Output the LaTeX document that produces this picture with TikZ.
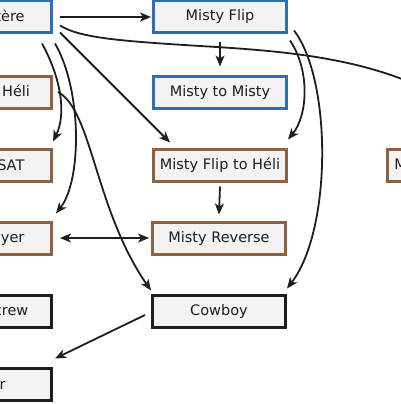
\documentclass[tikz,border=0pt]{standalone}
\usepackage{fontspec}
\setmainfont{DejaVu Sans}
\usetikzlibrary{arrows.meta,calc}
\definecolor{bl}{HTML}{2B6FBA}
\definecolor{br}{HTML}{8E6240}
\definecolor{bk}{HTML}{1E1E1E}
\definecolor{fl}{HTML}{F3F3F3}
\tikzset{
  box/.style={draw, fill=fl, line width=3pt, minimum width=133pt, minimum height=32pt,
    inner sep=0pt, text=bk, font=\fontsize{14.5}{17}\selectfont},
  bluebox/.style={box, draw=bl},
  brownbox/.style={box, draw=br},
  blackbox/.style={box, draw=bk},
  arr/.style={-{Stealth[length=11pt,width=9pt,inset=3pt]}, line width=1.8pt, draw=bk},
  darr/.style={{Stealth[length=11pt,width=9pt,inset=3pt]}-{Stealth[length=11pt,width=9pt,inset=3pt]}, line width=1.8pt, draw=bk}
}
\begin{document}
\begin{tikzpicture}[x=1pt,y=-1pt]
\useasboundingbox (0,0) rectangle (400,404);
% nodes
\node[bluebox]  (ere)    at (-15,17)  {Le Mystère};
\node[bluebox]  (flip)   at (220,17)  {Misty Flip};
\node[bluebox]  (mtm)    at (220,92)  {Misty to Misty};
\node[brownbox] (heli)   at (-15,92)  {Misty to Héli};
\node[brownbox] (sat)    at (-15,165) {Héli to SAT};
\node[brownbox] (mfh)    at (220,165) {Misty Flip to Héli};
\node[brownbox] (msat)   at (454,165) {Misty Flip to SAT};
\node[brownbox] (er)     at (-15,238) {Misty Flyer};
\node[brownbox] (mr)     at (219,238) {Misty Reverse};
\node[blackbox] (crew)   at (-15,311) {Misty Screw};
\node[blackbox] (cowboy) at (219,311) {Cowboy};
\node[blackbox] (rr)     at (-15,384) {Slider};
% edges
\draw[arr] ($(ere.east)+(7,0)$) -- ($(flip.west)+(-1,0)$);
\draw[arr] ($(flip.south)+(0,8)$) -- ($(mtm.south)+(0,-43)$);
\draw[arr] ($(ere.south east)+(7,-9)$) .. controls (80,38) and (120,41) .. (200,46)
   .. controls (300,52) and (420,60) .. ($(msat.north east)+(-22,-3)$);
\draw[arr] ($(ere.south east)+(7,-2)$) -- ($(mfh.north west)+(18,-5)$);
\draw[arr] ($(ere.south east)+(-11,9)$) .. controls (62,80) and (66,115) .. ($(sat.north east)+(0,-6)$);
\draw[arr] ($(ere.south east)+(2,9)$) .. controls (82,90) and (82,180) .. ($(er.north east)+(3,-7)$);
\draw[arr] ($(heli.east)+(5,0)$) .. controls (92,110) and (95,210) .. ($(cowboy.north west)+(0,-3)$);
\draw[darr] ($(er.east)+(7,0)$) -- ($(mr.west)+(-2,0)$);
\draw[arr] ($(mfh.south)+(0,4)$) -- ($(mr.north)+(0,-6)$);
\draw[arr] ($(flip.south east)+(2,6)$) .. controls (310,70) and (308,115) .. ($(mfh.north east)+(0,-8)$);
\draw[arr] ($(flip.south east)+(6,-4)$) .. controls (332,80) and (332,230) .. ($(cowboy.north east)+(0,-5)$);
\draw[arr] ($(cowboy.west)+(-6,4)$) -- ($(rr.north east)+(2,-8)$);
\end{tikzpicture}
\end{document}
